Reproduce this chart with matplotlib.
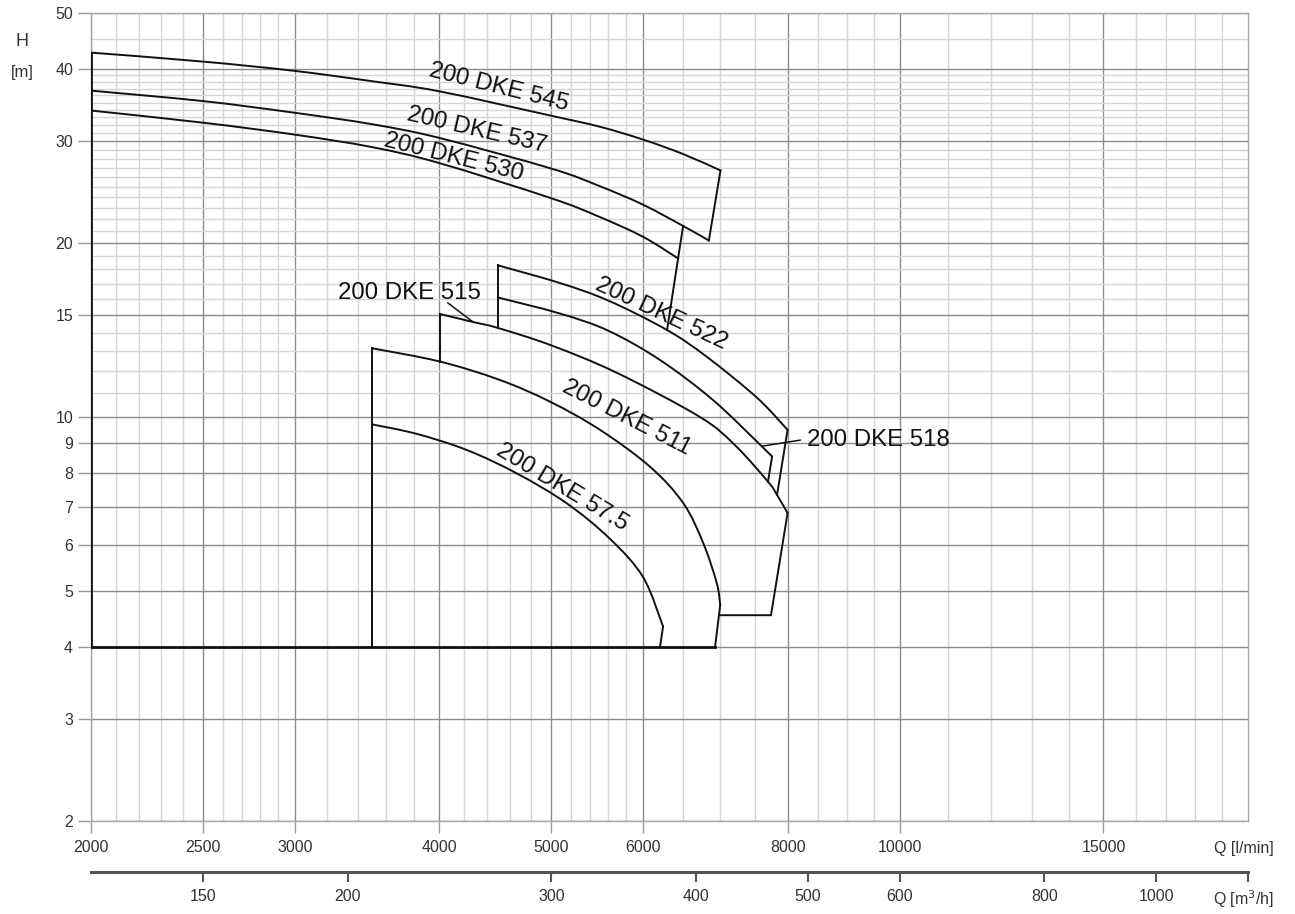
import matplotlib
matplotlib.use('Agg')
import matplotlib.pyplot as plt
from matplotlib.ticker import FixedLocator, NullLocator, FixedFormatter
from matplotlib.path import Path
from matplotlib.patches import PathPatch
import numpy as np

plt.rcParams['font.family'] = ['Liberation Sans', 'DejaVu Sans']

# ---------------- data (Q in l/min, H in m) ----------------
Q_545 = [2000, 2500, 3000, 3500, 4000, 5000, 5500, 6000, 6500, 7000]
H_545 = [42.7, 41.2, 39.7, 38.1, 36.6, 33.2, 31.8, 30.2, 28.5, 26.7]

Q_537 = [2000, 2500, 3000, 3500, 4000, 5000, 5500, 6000, 6500, 6840]
H_537 = [36.7, 35.2, 33.6, 32.1, 30.4, 26.9, 25.1, 23.3, 21.4, 20.2]

Q_530 = [2000, 2500, 3000, 3500, 4000, 5000, 5500, 6000, 6436]
H_530 = [33.9, 32.3, 30.8, 29.3, 27.5, 23.9, 22.2, 20.5, 18.8]

Q_522 = [4494, 5086, 5600, 6294, 6815, 7527, 8000]
H_522 = [18.3, 17.05, 15.9, 14.14, 12.7, 10.8, 9.5]

Q_518 = [4494, 5086, 5600, 6206, 6896, 7598, 7757]
H_518 = [16.1, 15.1, 14.1, 12.55, 10.7, 8.9, 8.54]

Q_515 = [4006, 4278, 4494, 5000, 5698, 6720, 7200, 7694, 7834, 8000]
H_515 = [15.07, 14.6, 14.26, 13.3, 11.92, 10.0, 8.95, 7.73, 7.33, 6.82]

Q_511 = [3500, 4006, 4512, 4986, 5508, 6085, 6502, 6764, 6948, 6996]
H_511 = [13.15, 12.47, 11.59, 10.63, 9.5, 8.2, 7.09, 6.05, 5.16, 4.73]

Q_575 = [3500, 3824, 4224, 4666, 5155, 5620, 6002, 6244]
H_575 = [9.71, 9.35, 8.77, 7.99, 7.09, 6.15, 5.28, 4.34]

# boundary / closing segments: (Q list, H list)
SEGMENTS = [
    ([2000, 2000], [4.0, 42.7]),      # left boundary
    ([2000, 6925], [4.0, 4.0]),       # bottom boundary H = 4 m
    ([7000, 6840], [26.7, 20.2]),     # 545 end -> 537 end
    ([6498, 6294], [21.4, 14.14]),    # 530 end line
    ([3500, 3500], [4.0, 13.15]),     # 511 / 57.5 start
    ([4006, 4006], [15.07, 12.47]),   # 515 start
    ([4494, 4494], [18.3, 14.26]),    # 522 / 518 start
    ([8000, 7834], [9.5, 7.33]),      # 522 end
    ([7757, 7694], [8.54, 7.73]),     # 518 end
    ([8000, 7740, 6980], [6.82, 4.54, 4.54]),  # 515 end
    ([6996, 6925], [4.73, 4.0]),      # 511 end
    ([6244, 6206], [4.34, 4.0]),      # 57.5 end
]
LEADERS = [
    ([4069, 4278], [15.75, 14.6]),    # 515 label
    ([8202, 7598], [9.12, 8.9]),      # 518 label
]

LABELS = ["200 DKE 545", "200 DKE 537", "200 DKE 530", "200 DKE 522",
          "200 DKE 515", "200 DKE 511", "200 DKE 57.5", "200 DKE 518"]
LABEL_Q = [4503, 4309, 4118, 6219, 3766, 5808, 5112, 9577]
LABEL_H = [37.1, 31.4, 28.1, 15.1, 16.4, 9.98, 7.57, 9.12]
LABEL_ROT = [-14, -13, -14, -25, 0, -27, -31, 0]

X_MAJOR = [2000, 2500, 3000, 4000, 5000, 6000, 8000, 10000, 15000]
X_MAJOR_LABELS = ["2000", "2500", "3000", "4000", "5000", "6000", "8000", "10000", "15000"]
X_MINOR = ([2100, 2200, 2300, 2400, 2600, 2700, 2800, 2900] +
           [3200, 3400, 3600, 3800, 4200, 4400, 4600, 4800, 5200, 5400, 5600, 5800] +
           [6500, 7000, 7500, 8500, 9000, 9500] +
           [11000, 12000, 13000, 14000, 16000, 17000, 18000, 19000])
Y_MAJOR = [2, 3, 4, 5, 6, 7, 8, 9, 10, 15, 20, 30, 40, 50]
Y_MAJOR_LABELS = ["2", "3", "4", "5", "6", "7", "8", "9", "10", "15", "20", "30", "40", "50"]
Y_MINOR = [11, 12, 13, 14, 16, 17, 18, 19] + list(range(21, 30)) + list(range(31, 40)) + [45]

M3H_TICKS = [150, 200, 300, 400, 500, 600, 800, 1000, 1200]
M3H_LABELS = ["150", "200", "300", "400", "500", "600", "800", "1000", ""]


def smooth_path(q, h):
    """Catmull-Rom through the read points, built in log-log space, drawn as Bezier path."""
    P = np.column_stack([np.log10(q), np.log10(h)])
    n = len(P)
    verts = [P[0]]
    codes = [Path.MOVETO]
    for i in range(n - 1):
        p0 = P[i - 1] if i > 0 else P[i]
        p1, p2 = P[i], P[i + 1]
        p3 = P[i + 2] if i + 2 < n else P[i + 1]
        verts += [p1 + (p2 - p0) / 6.0, p2 - (p3 - p1) / 6.0, p2]
        codes += [Path.CURVE4] * 3
    return Path(10.0 ** np.array(verts), codes)


# ---------------- figure ----------------
W, Hpx = 1295, 914
fig = plt.figure(figsize=(W / 100, Hpx / 100), dpi=100)
L, R, T, B = 91, 1248, 13, 821
ax = fig.add_axes([L / W, 1 - B / Hpx, (R - L) / W, (B - T) / Hpx])
ax.set_xscale('log')
ax.set_yscale('log')
ax.set_xlim(2000, 20000)
ax.set_ylim(2, 50)

ax.xaxis.set_major_locator(FixedLocator(X_MAJOR))
ax.xaxis.set_major_formatter(FixedFormatter(X_MAJOR_LABELS))
ax.xaxis.set_minor_locator(FixedLocator(X_MINOR))
ax.yaxis.set_major_locator(FixedLocator(Y_MAJOR))
ax.yaxis.set_major_formatter(FixedFormatter(Y_MAJOR_LABELS))
ax.yaxis.set_minor_locator(FixedLocator(Y_MINOR))
ax.xaxis.set_minor_formatter(FixedFormatter([]))
ax.yaxis.set_minor_formatter(FixedFormatter([]))

ax.set_axisbelow(True)
ax.grid(which='major', color='#8c8c8c', lw=1.0)
ax.grid(which='minor', color='#d6d6d6', lw=1.0)
ax.tick_params(which='minor', length=0)
ax.tick_params(axis='x', which='major', length=8.6, width=1.0, color='#999999',
               pad=5, labelsize=11.5, labelcolor='#333333')
ax.tick_params(axis='y', which='major', length=9.4, width=1.0, color='#999999',
               pad=3.5, labelsize=11.5, labelcolor='#333333')
for s in ax.spines.values():
    s.set_color('#a8a8a8')
    s.set_linewidth(1.0)

for q, h in [(Q_545, H_545), (Q_537, H_537), (Q_530, H_530), (Q_522, H_522),
             (Q_518, H_518), (Q_515, H_515), (Q_511, H_511), (Q_575, H_575)]:
    ax.add_patch(PathPatch(smooth_path(q, h), fill=False, edgecolor='#111111',
                           lw=1.4, capstyle='round', joinstyle='round', zorder=3))
for i, (q, h) in enumerate(SEGMENTS):
    lw = 2.0 if i < 2 else 1.4
    ax.plot(q, h, color='#111111', lw=lw, solid_joinstyle='miter',
            solid_capstyle='projecting', zorder=3)
for q, h in LEADERS:
    ax.plot(q, h, color='#111111', lw=1.1, zorder=3)

for txt, q, h, r in zip(LABELS, LABEL_Q, LABEL_H, LABEL_ROT):
    ax.text(q, h, txt, rotation=r, rotation_mode='anchor', ha='center', va='center',
            fontsize=17.3, color='#111111', zorder=4)

# secondary m3/h axis
sec = ax.secondary_xaxis((B - 872) / (B - T),
                         functions=(lambda q: np.asarray(q) * 0.06,
                                    lambda m: np.asarray(m) / 0.06))
sec.xaxis.set_major_locator(FixedLocator(M3H_TICKS))
sec.xaxis.set_major_formatter(FixedFormatter(M3H_LABELS))
sec.xaxis.set_minor_locator(NullLocator())
sec.spines['bottom'].set_color('#555555')
sec.spines['bottom'].set_linewidth(2.2)
sec.tick_params(axis='x', direction='out', length=7.5, width=1.5, color='#555555',
                pad=5, labelsize=11.5, labelcolor='#333333')

fig.text(1244 / W, 1 - 848 / Hpx, "Q [l/min]", ha='center', va='center',
         fontsize=11.5, color='#333333')
fig.text(1244 / W, 1 - 899 / Hpx, "Q [m$^{3}$/h]", ha='center', va='center',
         fontsize=11.5, color='#333333')
fig.text(22 / W, 1 - 42 / Hpx, "H", ha='center', va='center', fontsize=13, color='#333333')
fig.text(22 / W, 1 - 73 / Hpx, "[m]", ha='center', va='center', fontsize=12, color='#333333')

fig.savefig('out.png', dpi=100)
